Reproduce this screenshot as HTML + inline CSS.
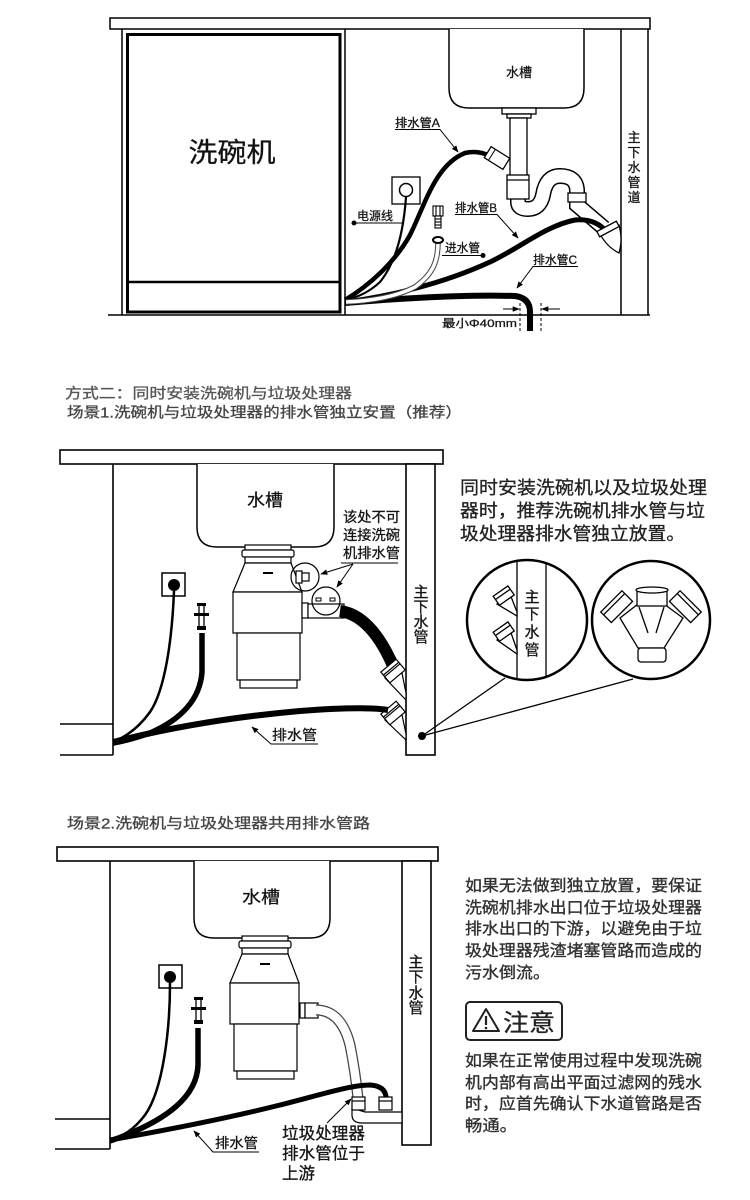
<!DOCTYPE html>
<html><head><meta charset="utf-8">
<style>
html,body{margin:0;padding:0;background:#fff;}
svg{display:block;}
text{font-family:"Liberation Sans","Noto Sans CJK SC",sans-serif;stroke:#222;stroke-width:0.3px;}
</style></head><body>
<svg width="750" height="1200" viewBox="0 0 750 1200" xmlns="http://www.w3.org/2000/svg">
<defs>
<marker id="ah" viewBox="0 0 10 10" refX="9" refY="5" markerWidth="7" markerHeight="7" orient="auto"><path d="M0 1 L10 5 L0 9 Z" fill="#000"/></marker>
<clipPath id="cl"><circle cx="527" cy="620" r="59"/></clipPath>
<g id="disp" fill="#fff" stroke="#000" stroke-width="1.2">
<rect x="245" y="545" width="46" height="5"/>
<rect x="242" y="550" width="52" height="7" rx="2"/>
<rect x="245" y="557" width="46" height="6"/>
<polygon points="245,563 291,563 302,592 233,592"/>
<rect x="233" y="592" width="69" height="41"/>
<rect x="237" y="633" width="63" height="47"/>
<rect x="240" y="680" width="57" height="8"/>
<line x1="263" y1="573" x2="273" y2="573" stroke-width="2"/>
</g>
</defs>
<rect width="750" height="1200" fill="#fff"/>

<!-- ============ DIAGRAM 1 ============ -->
<g fill="none" stroke="#000" stroke-width="1.5">
<rect x="110" y="18" width="540" height="11" fill="#fff"/>
<line x1="122" y1="29" x2="122" y2="315"/>
<line x1="108" y1="315" x2="650" y2="315"/>
<line x1="345" y1="29" x2="345" y2="315"/>
<line x1="621" y1="29" x2="621" y2="315"/>
<line x1="648" y1="29" x2="648" y2="315"/>
</g>
<rect x="127.5" y="34.5" width="212.5" height="277.5" fill="none" stroke="#000" stroke-width="3"/>
<line x1="127" y1="282" x2="340" y2="282" stroke="#000" stroke-width="2.5"/>
<text x="232" y="162" font-size="27" text-anchor="middle" textLength="87" lengthAdjust="spacingAndGlyphs" fill="#111">洗碗机</text>

<g font-size="13" text-anchor="middle" fill="#111">
<text x="634" y="142">主</text><text x="634" y="157">下</text><text x="634" y="172">水</text><text x="634" y="187">管</text><text x="634" y="202">道</text>
</g>

<!-- sink -->
<path d="M449 29 V88 Q449 108 469 108 H564 Q584 108 584 88 V29" fill="#fff" stroke="#000" stroke-width="1.5"/>
<text x="519" y="77" font-size="13" text-anchor="middle" fill="#111">水槽</text>
<!-- trap tube -->
<path d="M518 196 L518 202 Q518 209 528 209 Q540 209 543 195 Q546 176 560 176 Q576 176 577 190 L577 205 L604 228" fill="none" stroke="#000" stroke-width="16"/>
<path d="M518 196 L518 202 Q518 209 528 209 Q540 209 543 195 Q546 176 560 176 Q576 176 577 190 L577 205 L604 228" fill="none" stroke="#fff" stroke-width="13"/>
<g fill="#fff" stroke="#000" stroke-width="1.3">
<rect x="502" y="108" width="34" height="6"/>
<rect x="507" y="114" width="24" height="4"/>
<rect x="510" y="118" width="17" height="58"/>
<rect x="507" y="175" width="22" height="24"/>
<line x1="507" y1="180" x2="529" y2="180"/>
<rect x="568" y="193" width="18" height="9"/>
</g>
<!-- pipe A -->
<path d="M345 300 C370 285,395 262,410 235 C425 205,435 165,465 153 Q478 150,490 156" fill="none" stroke="#000" stroke-width="4.5"/>
<g transform="translate(497,158) rotate(32)"><rect x="-11" y="-6.5" width="22" height="13" fill="#fff" stroke="#000" stroke-width="1.3"/><line x1="-6" y1="-6.5" x2="-6" y2="6.5" stroke="#000" stroke-width="1"/></g>
<!-- pipe B -->
<path d="M345 302 C385 297,440 285,490 262 C520 248,545 226,575 220 Q595 218,607 232" fill="none" stroke="#000" stroke-width="5"/>
<!-- outlet cup -->
<path d="M600 234 L619 225 Q623 240 619 253 Q607 247 600 234 Z" fill="#fff" stroke="#000" stroke-width="1.3"/>
<g transform="translate(608,229) rotate(-28)"><rect x="-11" y="-3" width="22" height="6" fill="#fff" stroke="#000" stroke-width="1.3"/></g>
<!-- pipe C -->
<path d="M345 303 C380 300,460 294,515 296 Q530 298,530 312 L530 331" fill="none" stroke="#000" stroke-width="6"/>
<!-- power cord -->
<rect x="392" y="177" width="28" height="27" fill="#fff" stroke="#000" stroke-width="1.3"/>
<circle cx="406" cy="190" r="6.5" fill="#fff" stroke="#000" stroke-width="1.5"/>
<path d="M406 197 C404 225,398 260,380 282 Q365 296,345 300" fill="none" stroke="#000" stroke-width="2.2"/>
<!-- inlet hose -->
<path d="M438 243 C438 262,432 275,415 287 Q390 300,346 302" fill="none" stroke="#444" stroke-width="5.5"/>
<path d="M438 243 C438 262,432 275,415 287 Q390 300,346 302" fill="none" stroke="#fff" stroke-width="3.5"/>
<g stroke="#000" stroke-width="1.1" fill="#fff">
<rect x="433" y="206" width="10" height="10"/>
<line x1="436" y1="206" x2="436" y2="216"/><line x1="440" y1="206" x2="440" y2="216"/>
<rect x="435" y="216" width="6" height="12"/>
<line x1="435" y1="219" x2="441" y2="219"/><line x1="435" y1="222" x2="441" y2="222"/><line x1="435" y1="225" x2="441" y2="225"/>
</g>
<ellipse cx="438" cy="240" rx="5" ry="3" fill="#fff" stroke="#000" stroke-width="2"/>

<!-- labels diag 1 -->
<g font-size="12" fill="#111">
<text x="395" y="127" textLength="45" lengthAdjust="spacingAndGlyphs">排水管A</text>
<text x="455" y="212" textLength="42" lengthAdjust="spacingAndGlyphs">排水管B</text>
<text x="533" y="264" textLength="44" lengthAdjust="spacingAndGlyphs">排水管C</text>
<text x="357" y="220" textLength="36" lengthAdjust="spacingAndGlyphs">电源线</text>
<text x="445" y="252" textLength="35" lengthAdjust="spacingAndGlyphs">进水管</text>
<text x="442" y="327" font-size="11" textLength="75" lengthAdjust="spacingAndGlyphs">最小Φ40mm</text>
</g>
<g fill="none" stroke="#000" stroke-width="1">
<polyline points="395,129.5 440,129.5 458,152" marker-end="url(#ah)"/>
<polyline points="455,214.5 497,214.5 518,238" marker-end="url(#ah)"/>
<polyline points="578,266.5 533,266.5 517,288" marker-end="url(#ah)"/>
<line x1="354" y1="223" x2="403" y2="223"/>
<line x1="442" y1="255.5" x2="483" y2="255.5"/>
<line x1="520" y1="303" x2="520" y2="331" stroke-dasharray="3,2"/>
<line x1="541" y1="303" x2="541" y2="331" stroke-dasharray="3,2"/>
<line x1="503" y1="309" x2="519" y2="309" marker-end="url(#ah)"/>
<line x1="560" y1="309" x2="542" y2="309" marker-end="url(#ah)"/>
</g>
<circle cx="354" cy="223" r="2.5" fill="#000"/>
<circle cx="483" cy="255.5" r="2.5" fill="#000"/>

<!-- ============ TITLES ============ -->
<text x="65" y="398.5" font-size="14.5" fill="#555" style="stroke:#555" textLength="287" lengthAdjust="spacingAndGlyphs">方式二：同时安装洗碗机与垃圾处理器</text>
<text x="67" y="417.5" font-size="14.5" fill="#444" style="stroke:#444" textLength="395" lengthAdjust="spacingAndGlyphs">场景1.洗碗机与垃圾处理器的排水管独立安置（推荐）</text>

<!-- ============ SCENE 1 ============ -->
<g fill="none" stroke="#000" stroke-width="1.6">
<rect x="60" y="450" width="383" height="14" fill="#fff"/>
<line x1="113" y1="464" x2="113" y2="755"/>
<line x1="60" y1="724" x2="113" y2="724"/>
<line x1="60" y1="755" x2="113" y2="755"/>
<rect x="406" y="464" width="29" height="291" fill="#fff"/>
</g>
<path d="M197 464 V527 Q197 547 217 547 H314 Q334 547 334 527 V464" fill="#fff" stroke="#000" stroke-width="1.5"/>
<text x="265" y="506" font-size="17" text-anchor="middle" fill="#111" textLength="36" lengthAdjust="spacingAndGlyphs">水槽</text>
<use href="#disp"/>
<g fill="#fff" stroke="#000" stroke-width="1.2">
<rect x="302" y="603" width="6" height="15"/>
<rect x="308" y="604" width="36" height="14"/>
</g>
<!-- black hose -->
<path d="M340 611 C362 614,380 635,394 668" fill="none" stroke="#000" stroke-width="12"/>
<!-- circles on disposer -->
<circle cx="305" cy="577" r="14" fill="none" stroke="#000" stroke-width="1.2"/>
<g fill="#fff" stroke="#000" stroke-width="1.2">
<rect x="296" y="571" width="6" height="12"/>
<rect x="302" y="573" width="7" height="8"/>
</g>
<circle cx="326" cy="601" r="14" fill="none" stroke="#000" stroke-width="1.2"/>
<rect x="316" y="598" width="5" height="3" fill="#fff" stroke="#000" stroke-width="1"/>
<rect x="330" y="598" width="5" height="3" fill="#fff" stroke="#000" stroke-width="1"/>
<!-- fittings on main pipe -->
<g fill="#fff" stroke="#000" stroke-width="1.2">
<polygon points="385,678 401,668 406,693 406,700"/>
<g transform="translate(393,671) rotate(-40)"><rect x="-10" y="-7" width="20" height="14"/><line x1="-10" y1="-3" x2="10" y2="-3"/><line x1="-10" y1="-1" x2="10" y2="-1"/></g>
<polygon points="385,720 401,710 406,734 406,740"/>
<g transform="translate(393,713) rotate(-40)"><rect x="-10" y="-7" width="20" height="14"/><line x1="-10" y1="-3" x2="10" y2="-3"/><line x1="-10" y1="-1" x2="10" y2="-1"/></g>
</g>
<!-- drain hose -->
<path d="M113 742 C160 730,220 718,300 711 C340 708,370 707,388 710" fill="none" stroke="#000" stroke-width="6"/>
<!-- socket + cord -->
<rect x="162" y="573" width="23" height="23" fill="#fff" stroke="#000" stroke-width="1.5"/>
<circle cx="174" cy="585" r="6" fill="#000"/>
<path d="M174 591 C172 640,165 690,150 712 Q135 733,113 742" fill="none" stroke="#000" stroke-width="2.5"/>
<!-- valve + hose -->
<g fill="#000">
<rect x="197" y="603" width="9" height="3"/>
<rect x="194" y="613" width="15" height="3"/>
<rect x="197" y="626" width="9" height="4"/>
</g>
<line x1="199" y1="606" x2="199" y2="626" stroke="#000" stroke-width="1.3"/>
<line x1="204" y1="606" x2="204" y2="626" stroke="#000" stroke-width="1.3"/>
<path d="M202 633 L202 672 C200 700,180 720,150 733 Q130 740,113 743" fill="none" stroke="#000" stroke-width="5.5"/>
<!-- scene1 labels -->
<g font-size="14" fill="#111">
<text x="343" y="522" textLength="57" lengthAdjust="spacingAndGlyphs">该处不可</text>
<text x="343" y="540" textLength="57" lengthAdjust="spacingAndGlyphs">连接洗碗</text>
<text x="343" y="558" textLength="57" lengthAdjust="spacingAndGlyphs">机排水管</text>
<text x="272" y="740" textLength="45" lengthAdjust="spacingAndGlyphs">排水管</text>
</g>
<g fill="none" stroke="#000" stroke-width="1">
<line x1="341" y1="563" x2="398" y2="563"/>
<line x1="353" y1="564" x2="321" y2="574" marker-end="url(#ah)"/>
<line x1="353" y1="564" x2="337" y2="587" marker-end="url(#ah)"/>
<polyline points="318,744 271,744 252,727" marker-end="url(#ah)"/>
</g>
<g font-size="15" text-anchor="middle" fill="#111">
<text x="421" y="597">主</text><text x="421" y="612">下</text><text x="421" y="627">水</text><text x="421" y="642">管</text>
</g>
<!-- right text -->
<g font-size="18" fill="#222">
<text x="460" y="494" textLength="247" lengthAdjust="spacingAndGlyphs">同时安装洗碗机以及垃圾处理</text>
<text x="460" y="517" textLength="245" lengthAdjust="spacingAndGlyphs">器时，推荐洗碗机排水管与垃</text>
<text x="460" y="540" textLength="225" lengthAdjust="spacingAndGlyphs">圾处理器排水管独立放置。</text>
</g>
<!-- connector lines to circles -->
<g stroke="#000" stroke-width="1.3" fill="none">
<line x1="422" y1="736" x2="505" y2="678"/>
<line x1="422" y1="736" x2="633" y2="679"/>
</g>
<circle cx="422" cy="736" r="4" fill="#000"/>
<!-- left circle -->
<circle cx="527" cy="620" r="60" fill="#fff" stroke="#000" stroke-width="2.5"/>
<g clip-path="url(#cl)" fill="none" stroke="#000" stroke-width="1.3">
<line x1="517" y1="555" x2="517" y2="685"/>
<line x1="546" y1="555" x2="546" y2="685"/>
<polygon points="497,604 510,594 517,612 517,616" fill="#fff"/>
<g transform="translate(504,596) rotate(-35)"><rect x="-9" y="-6" width="18" height="11" fill="#fff"/><line x1="-9" y1="-2" x2="9" y2="-2"/></g>
<polygon points="497,640 510,630 517,650 517,654" fill="#fff"/>
<g transform="translate(504,632) rotate(-35)"><rect x="-9" y="-6" width="18" height="11" fill="#fff"/><line x1="-9" y1="-2" x2="9" y2="-2"/></g>
</g>
<g font-size="15" text-anchor="middle" fill="#111">
<text x="532" y="602">主</text><text x="532" y="619">下</text><text x="532" y="637">水</text><text x="532" y="655">管</text>
</g>
<!-- right circle -->
<circle cx="651" cy="620" r="59" fill="#fff" stroke="#000" stroke-width="2.5"/>
<g fill="#fff" stroke="#000" stroke-width="1.3">
<polygon points="620,618 638,604 664,604 683,618 664,648 638,648"/>
<line x1="639" y1="607" x2="648" y2="633" fill="none"/>
<line x1="664" y1="607" x2="656" y2="633" fill="none"/>
<rect x="637" y="589" width="30" height="17"/>
<ellipse cx="652" cy="590" rx="16" ry="3"/>
<rect x="638" y="648" width="28" height="14" rx="3"/>
<g transform="translate(617,607) rotate(-45)"><rect x="-15" y="-8" width="30" height="15"/><line x1="-15" y1="-4" x2="15" y2="-4"/></g>
<g transform="translate(685,607) rotate(45)"><rect x="-15" y="-8" width="30" height="15"/><line x1="-15" y1="-4" x2="15" y2="-4"/></g>
</g>

<!-- ============ SCENE 2 ============ -->
<text x="67" y="828.5" font-size="14.5" fill="#444" style="stroke:#444" textLength="303" lengthAdjust="spacingAndGlyphs">场景2.洗碗机与垃圾处理器共用排水管路</text>
<g fill="none" stroke="#000" stroke-width="1.6">
<rect x="57" y="847" width="381" height="14" fill="#fff"/>
<line x1="110" y1="861" x2="110" y2="1149"/>
<line x1="55" y1="1119" x2="110" y2="1119"/>
<line x1="55" y1="1149" x2="110" y2="1149"/>
<rect x="402" y="861" width="29" height="284" fill="#fff"/>
</g>
<path d="M194 861 V918 Q194 938 214 938 H310 Q330 938 330 918 V861" fill="#fff" stroke="#000" stroke-width="1.5"/>
<text x="261" y="903" font-size="17" text-anchor="middle" fill="#111" textLength="38" lengthAdjust="spacingAndGlyphs">水槽</text>
<use href="#disp" transform="translate(-3,391)"/>
<g fill="#fff" stroke="#000" stroke-width="1.2">
<rect x="300" y="1003" width="5" height="15"/>
<rect x="305" y="1003" width="13" height="15"/>
</g>
<path d="M316 1010 C335 1010,345 1025,350 1045 Q355 1070,358 1098" fill="none" stroke="#444" stroke-width="11"/>
<path d="M316 1010 C335 1010,345 1025,350 1045 Q355 1070,358 1098" fill="none" stroke="#fff" stroke-width="8.5"/>
<g fill="#fff" stroke="#000" stroke-width="1.2">
<path d="M352 1108 V1115 Q352 1123 362 1123 H402 V1112 H365 Z"/>
<rect x="352" y="1097" width="13" height="13"/>
<line x1="352" y1="1101" x2="365" y2="1101"/>
<rect x="379" y="1097" width="13" height="13"/>
<line x1="379" y1="1101" x2="392" y2="1101"/>
</g>
<path d="M110 1140 C150 1133,220 1120,280 1105 C320 1095,350 1085,370 1085 Q385 1086,386 1097" fill="none" stroke="#000" stroke-width="5"/>
<rect x="159" y="965" width="23" height="23" fill="#fff" stroke="#000" stroke-width="1.5"/>
<circle cx="170" cy="977" r="6" fill="#000"/>
<path d="M170 983 C170 1030,163 1090,145 1115 Q130 1135,110 1140" fill="none" stroke="#000" stroke-width="2.5"/>
<g fill="#000">
<rect x="194" y="997" width="9" height="3"/>
<rect x="191" y="1007" width="15" height="3"/>
<rect x="194" y="1020" width="9" height="4"/>
</g>
<line x1="196" y1="1000" x2="196" y2="1020" stroke="#000" stroke-width="1.3"/>
<line x1="201" y1="1000" x2="201" y2="1020" stroke="#000" stroke-width="1.3"/>
<path d="M198 1028 L198 1065 C197 1095,170 1120,110 1141" fill="none" stroke="#000" stroke-width="5.5"/>
<g font-size="15" text-anchor="middle" fill="#111">
<text x="416" y="967">主</text><text x="416" y="982">下</text><text x="416" y="998">水</text><text x="416" y="1013">管</text>
</g>
<g font-size="14" fill="#111">
<text x="215" y="1148" textLength="43" lengthAdjust="spacingAndGlyphs">排水管</text>
</g>
<g font-size="16.5" fill="#111">
<text x="282" y="1139" textLength="83" lengthAdjust="spacingAndGlyphs">垃圾处理器</text>
<text x="282" y="1159" textLength="83" lengthAdjust="spacingAndGlyphs">排水管位于</text>
<text x="282" y="1179" textLength="33" lengthAdjust="spacingAndGlyphs">上游</text>
</g>
<g fill="none" stroke="#000" stroke-width="1">
<polyline points="259,1152 213,1152 194,1131" marker-end="url(#ah)"/>
<line x1="327" y1="1123" x2="351" y2="1099" marker-end="url(#ah)"/>
</g>
<!-- right text scene 2 -->
<g font-size="16" fill="#333">
<text x="465" y="891" textLength="237" lengthAdjust="spacingAndGlyphs">如果无法做到独立放置，要保证</text>
<text x="465" y="913" textLength="237" lengthAdjust="spacingAndGlyphs">洗碗机排水出口位于垃圾处理器</text>
<text x="465" y="934" textLength="237" lengthAdjust="spacingAndGlyphs">排水出口的下游，以避免由于垃</text>
<text x="465" y="956" textLength="237" lengthAdjust="spacingAndGlyphs">圾处理器残渣堵塞管路而造成的</text>
<text x="465" y="978" textLength="85" lengthAdjust="spacingAndGlyphs">污水倒流。</text>
<text x="465" y="1066" textLength="237" lengthAdjust="spacingAndGlyphs">如果在正常使用过程中发现洗碗</text>
<text x="465" y="1088" textLength="237" lengthAdjust="spacingAndGlyphs">机内部有高出平面过滤网的残水</text>
<text x="465" y="1109" textLength="237" lengthAdjust="spacingAndGlyphs">时，应首先确认下水道管路是否</text>
<text x="465" y="1131" textLength="52" lengthAdjust="spacingAndGlyphs">畅通。</text>
</g>
<rect x="466" y="1002" width="96" height="38" rx="4" fill="#fff" stroke="#222" stroke-width="2"/>
<polygon points="486,1009 499,1031 473,1031" fill="none" stroke="#222" stroke-width="2" stroke-linejoin="round"/>
<line x1="486" y1="1016" x2="486" y2="1025" stroke="#222" stroke-width="2.2"/>
<circle cx="486" cy="1028" r="1.3" fill="#222"/>
<text x="503" y="1031" font-size="24" fill="#222" textLength="52" lengthAdjust="spacingAndGlyphs">注意</text>
</svg>
</body></html>
